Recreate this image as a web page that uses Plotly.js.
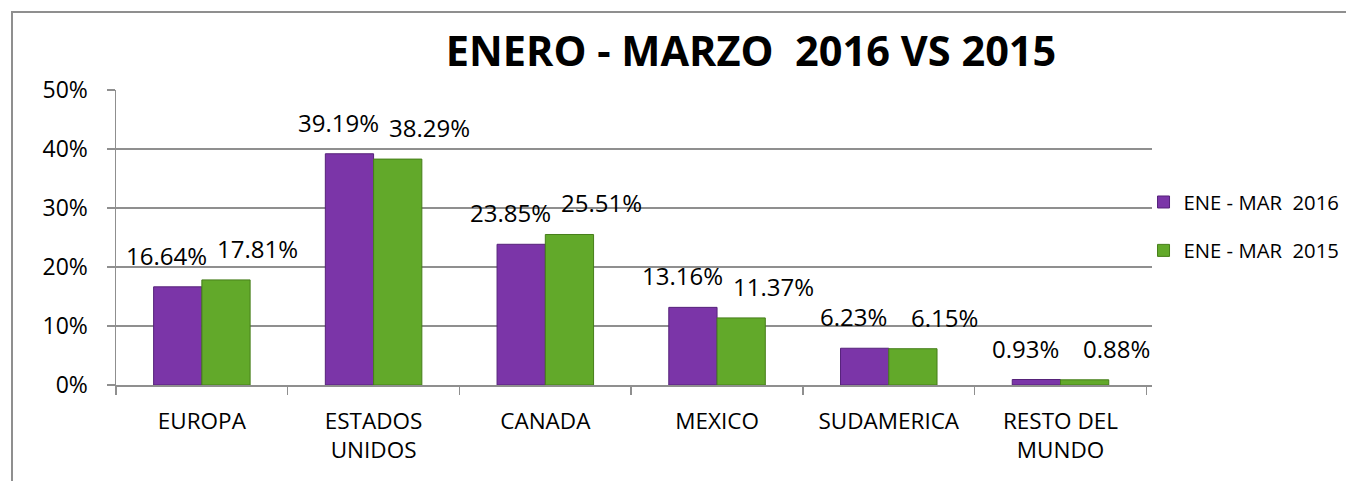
<!DOCTYPE html>
<html>
<head>
<meta charset="utf-8">
<script src="https://cdn.plot.ly/plotly-3.0.1.min.js"></script>
<style>
  html, body { margin: 0; padding: 0; background: #fff; }
  #wrap { position: relative; width: 1346px; height: 481px; }
  #chart { width: 1346px; height: 481px; }
  #frame { position: absolute; left: 11px; top: 11px; width: 1335px; height: 470px;
           border-top: 2px solid #8f8f8f; border-left: 2px solid #8f8f8f; pointer-events: none; }
</style>
</head>
<body>
<div id="wrap">
  <div id="chart"></div>
  <div id="frame"></div>
</div>
<script>
const categories = ['EUROPA', 'ESTADOS<br>UNIDOS', 'CANADA', 'MEXICO', 'SUDAMERICA', 'RESTO DEL<br>MUNDO'];
const values2016 = [0.1664, 0.3919, 0.2385, 0.1316, 0.0623, 0.0093];
const values2015 = [0.1781, 0.3829, 0.2551, 0.1137, 0.0615, 0.0088];
const seriesNames = ['ENE - MAR\u00a0 2016', 'ENE - MAR\u00a0 2015'];
const yTickValues = [0, 0.1, 0.2, 0.3, 0.4, 0.5];
const yTickLabels = ['0%', '10%', '20%', '30%', '40%', '50%'];
const titleText = 'ENERO - MARZO\u00a0 2016 VS 2015';

const FONT = 'Open Sans, Liberation Sans, sans-serif';
const colors = ['#7B35A8', '#62A92A'];
const lineColors = ['#56227A', '#467E1A'];
const labelShift = [-35, 56];

const series = [values2016, values2015];
const traces = series.map((vals, k) => ({
  type: 'bar',
  name: seriesNames[k],
  x: categories,
  y: vals,
  legendgroup: 'g' + k,
  marker: { color: colors[k], line: { color: lineColors[k], width: 1 } },
  hoverinfo: 'x+y'
}));

const annotations = [];
series.forEach((vals, k) => {
  vals.forEach((v, i) => {
    annotations.push({
      x: categories[i], y: v, xref: 'x', yref: 'y',
      text: (v * 100).toFixed(2) + '%',
      showarrow: false, yanchor: 'bottom', xanchor: 'center',
      xshift: labelShift[k], yshift: 13,
      font: { family: FONT, size: 24, color: '#000' }
    });
  });
});

const layout = {
  width: 1346, height: 481,
  margin: { l: 116, r: 194, t: 90, b: 96, pad: 0 },
  paper_bgcolor: '#fff', plot_bgcolor: '#fff',
  title: {
    text: titleText,
    font: { family: FONT, size: 41.5, color: '#000', weight: 'bold' },
    xref: 'container', yref: 'container',
    x: 0.558, xanchor: 'center', y: 0.893, yanchor: 'middle'
  },
  barmode: 'group', bargap: 0.438, bargroupgap: 0,
  xaxis: {
    type: 'category', automargin: false,
    showline: true, linecolor: '#8f8f8f', linewidth: 1.5,
    ticks: 'outside', ticklen: 8, tickcolor: '#8f8f8f', tickwidth: 1.5,
    tickson: 'boundaries', showgrid: false,
    tickfont: { family: FONT, size: 22.5, color: '#000' },
    ticklabelstandoff: 15
  },
  yaxis: {
    range: [0, 0.5], automargin: false,
    tickvals: yTickValues, ticktext: yTickLabels,
    showline: true, linecolor: '#8f8f8f', linewidth: 1.5,
    ticks: 'outside', ticklen: 8, tickcolor: '#8f8f8f', tickwidth: 1.5,
    showgrid: true, gridcolor: '#8f8f8f', gridwidth: 1.5,
    zeroline: false,
    tickfont: { family: FONT, size: 23, color: '#000' },
    ticklabelstandoff: 14
  },
  showlegend: true,
  legend: {
    xref: 'container', yref: 'container',
    x: 0.857, xanchor: 'left', y: 0.621, yanchor: 'top',
    indentation: -10,
    font: { family: FONT, size: 20.3, color: '#000' },
    tracegroupgap: 19, traceorder: 'grouped',
    bgcolor: 'rgba(0,0,0,0)', borderwidth: 0, itemwidth: 30
  },
  annotations: annotations
};

Plotly.newPlot('chart', traces, layout, { displayModeBar: false, staticPlot: true });
</script>
</body>
</html>
